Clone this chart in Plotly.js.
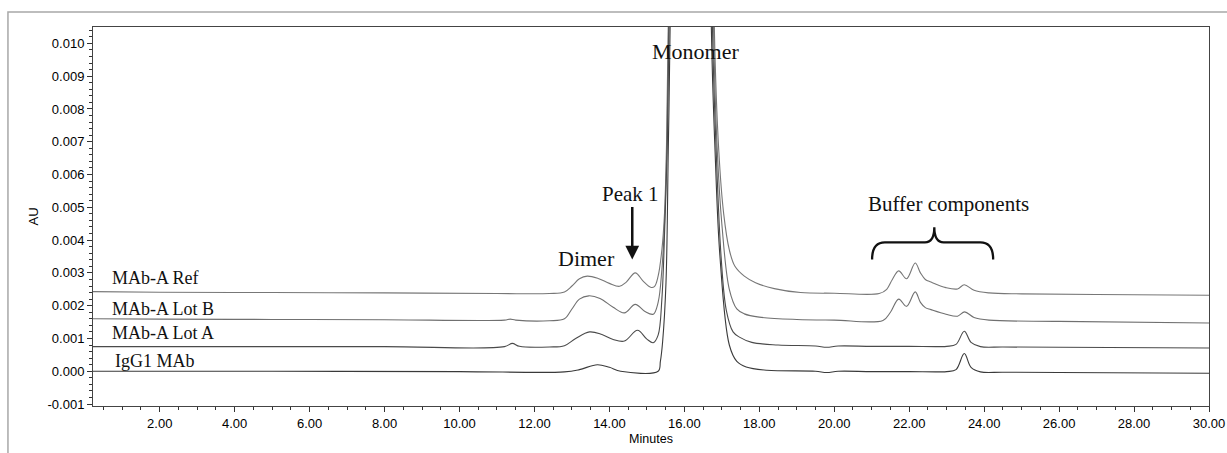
<!DOCTYPE html>
<html>
<head>
<meta charset="utf-8">
<script src="https://cdn.plot.ly/plotly-3.0.1.min.js"></script>
<style>
html,body{margin:0;padding:0;background:#fff;}
#chart{width:1227px;height:453px;}
</style>
</head>
<body>
<div id="chart"></div>
<script>
// ---- Data (time in minutes, absorbance in AU) ----
const refTime = [0.22,2,5,8,11,12.4,12.8,13.0,13.2,13.41,13.7,14.0,14.27,14.45,14.69,14.9,15.1,15.2,15.3,15.4,15.47,15.52,15.57,15.65,16.15,16.7,16.8,16.92,17.05,17.2,17.35,17.6,17.9,18.4,19.1,20,21.2,21.4,21.55,21.72,21.93,22.16,22.3,22.43,22.58,22.98,23.29,23.47,23.73,24.13,25,27,30];
const refAU   = [0.00243,0.00241,0.0024,0.00239,0.00237,0.00237,0.00242,0.0026,0.00282,0.0029,0.00283,0.00268,0.00259,0.00272,0.0030,0.00275,0.00256,0.00258,0.0029,0.0037,0.0048,0.0067,0.0105,0.03,0.3,0.03,0.0105,0.0067,0.0048,0.0037,0.0032,0.0029,0.0027,0.00252,0.0024,0.00238,0.00237,0.0025,0.0028,0.00306,0.00282,0.0033,0.003,0.0028,0.00272,0.00255,0.00251,0.00264,0.00247,0.00239,0.00236,0.00234,0.00232];

const lotBTime = [0.22,2,5,8,11.2,11.35,11.5,12.4,12.8,13.0,13.2,13.45,13.75,14.1,14.4,14.69,14.95,15.17,15.3,15.4,15.47,15.53,15.58,15.66,16.15,16.68,16.78,16.88,17.0,17.2,17.4,17.6,18,19,20,21.3,21.5,21.72,21.93,22.16,22.3,22.43,22.58,22.98,23.29,23.48,23.73,24.13,26,30];
const lotBAU   = [0.0016,0.00159,0.00158,0.00157,0.00156,0.00159,0.00156,0.00154,0.0016,0.0019,0.0022,0.0023,0.00222,0.00195,0.00178,0.00204,0.00182,0.00174,0.0021,0.0031,0.0045,0.0067,0.0105,0.03,0.3,0.03,0.0105,0.0067,0.0045,0.0025,0.0019,0.00175,0.00165,0.00158,0.00156,0.00155,0.0018,0.0022,0.00198,0.00242,0.0021,0.00194,0.00188,0.00174,0.00168,0.00181,0.00164,0.00156,0.00152,0.00147];

const lotATime = [0.22,3,8,11.2,11.41,11.6,12.4,12.8,13.1,13.47,13.8,14.1,14.4,14.75,15.0,15.17,15.3,15.4,15.48,15.54,15.59,15.67,16.15,16.65,16.75,16.85,16.98,17.12,17.3,17.47,17.8,18.5,19.5,19.8,20.1,21,22,23.0,23.25,23.47,23.65,23.9,24.5,26,30];
const lotAAU   = [0.00075,0.00075,0.00075,0.00075,0.00085,0.00076,0.00074,0.00078,0.001,0.0012,0.00112,0.00097,0.00092,0.00125,0.00098,0.00087,0.0011,0.0022,0.0045,0.0067,0.0105,0.03,0.3,0.03,0.0105,0.0067,0.0035,0.00186,0.0012,0.00104,0.00088,0.0008,0.00077,0.00073,0.00077,0.00076,0.00076,0.00076,0.00082,0.00122,0.00088,0.00075,0.00074,0.00073,0.00071];

const igg1Time = [0.22,5,10,12.8,13.2,13.68,14.0,14.3,15.3,15.36,15.42,15.51,15.57,15.62,15.7,16.15,16.62,16.72,16.82,16.95,17.2,17.4,17.65,18.2,19.5,19.8,20.1,21,22,23.0,23.25,23.47,23.65,23.9,24.5,26,30];
const igg1AU   = [0.0,0.0,-0.00001,-0.00002,0.00005,0.0002,0.00012,0.0,0.0,0.0003,0.0009,0.0027,0.0067,0.0105,0.03,0.3,0.03,0.0105,0.0067,0.0035,0.0008,0.0003,0.00013,0.00003,0.0,-0.00004,0.0,-0.00001,-0.00001,-0.00001,0.00005,0.00054,0.00012,-0.00002,-0.00003,-0.00004,-0.00006];

const seriesNames = ["MAb-A Ref","MAb-A Lot B","MAb-A Lot A","IgG1 MAb"];
const yTickVals = [-0.001,0,0.001,0.002,0.003,0.004,0.005,0.006,0.007,0.008,0.009,0.010];
const yTickText = ["-0.001","0.000","0.001","0.002","0.003","0.004","0.005","0.006","0.007","0.008","0.009","0.010"];

// ---- Traces ----
const serif = '"Liberation Serif","Times New Roman",Times,serif';
const sans = '"Liberation Sans",Arial,Helvetica,sans-serif';
const xs = [refTime, lotBTime, lotATime, igg1Time];
const ys = [refAU, lotBAU, lotAAU, igg1AU];
const colors = ["#777777","#707070","#4a4a4a","#3a3a3a"];
const traces = xs.map((x,i)=>({
  x:x, y:ys[i], type:'scatter', mode:'lines', name:seriesNames[i],
  line:{color:colors[i], width:1.1, shape:'spline', smoothing:1},
  hoverinfo:'x+y+name'
}));

// label anchor points (left edge of each trace label)
const labelT = [0.667,0.667,0.667,0.75];
const labelY = [0.00284,0.0019,0.00116,0.0003];

const annotations = seriesNames.map((s,i)=>({
  x:labelT[i], y:labelY[i], xref:'x', yref:'y', text:s, showarrow:false,
  xanchor:'left', yanchor:'middle', font:{family:serif, size:18, color:'#111'}
}));
annotations.push(
  {x:16.31, y:0.00976, xref:'x', yref:'y', text:'Monomer', showarrow:false, font:{family:serif, size:22, color:'#111'}},
  {x:14.55, y:0.0054, xref:'x', yref:'y', text:'Peak 1', showarrow:false, font:{family:serif, size:21, color:'#111'}},
  {x:13.38, y:0.00345, xref:'x', yref:'y', text:'Dimer', showarrow:false, font:{family:serif, size:22, color:'#111'}},
  {x:23.04, y:0.0051, xref:'x', yref:'y', text:'Buffer components', showarrow:false, font:{family:serif, size:21, color:'#111'}},
  {x:14.61, y:0.00341, xref:'x', yref:'y', text:'', showarrow:true, ax:0, ay:-54,
   arrowhead:2, arrowsize:1.1, arrowwidth:2.5, arrowcolor:'#111'}
);

const layout = {
  width:1227, height:453,
  margin:{l:93, r:18, t:27, b:47},
  paper_bgcolor:'#fff', plot_bgcolor:'#fff',
  showlegend:false,
  xaxis:{
    range:[0.22,30], tick0:0, dtick:2, tickformat:'.2f',
    ticks:'outside', ticklen:5, tickcolor:'#333', tickwidth:1,
    minor:{dtick:0.5, ticks:'outside', ticklen:3, tickcolor:'#333'},
    showline:true, linecolor:'#444', linewidth:1, mirror:true,
    showgrid:false, zeroline:false,
    tickfont:{family:sans, size:13, color:'#000'},
    title:{text:'Minutes', font:{family:sans, size:12.5, color:'#000'}, standoff:4}
  },
  yaxis:{
    range:[-0.00106,0.0105], tickvals:yTickVals, ticktext:yTickText,
    ticks:'outside', ticklen:5, tickcolor:'#333', tickwidth:1,
    minor:{dtick:0.0002, tick0:0, ticks:'outside', ticklen:3, tickcolor:'#333'},
    showline:true, linecolor:'#444', linewidth:1, mirror:true,
    showgrid:false, zeroline:false,
    tickfont:{family:sans, size:13, color:'#000'},
    title:{text:'AU', font:{family:sans, size:13, color:'#000'}, standoff:5}
  },
  annotations:annotations,
  shapes:[
    // curly brace over buffer components
    {type:'path', xref:'x', yref:'y',
     path:'M 21.01,0.00341 Q 21.01,0.00393 21.35,0.00393 L 22.42,0.00393 Q 22.67,0.00393 22.67,0.00439 Q 22.67,0.00393 22.92,0.00393 L 23.9,0.00393 Q 24.24,0.00393 24.24,0.00341',
     line:{color:'#111', width:2.3}},
    // outer frame of the figure (left and top edges)
    {type:'path', xref:'paper', yref:'paper',
     path:'M -0.0762,-0.2 L -0.0762,1.0396 L 1.1,1.0396',
     line:{color:'#a8a8a8', width:1.5}}
  ]
};

Plotly.newPlot('chart', traces, layout, {displayModeBar:false, staticPlot:true});
</script>
</body>
</html>
